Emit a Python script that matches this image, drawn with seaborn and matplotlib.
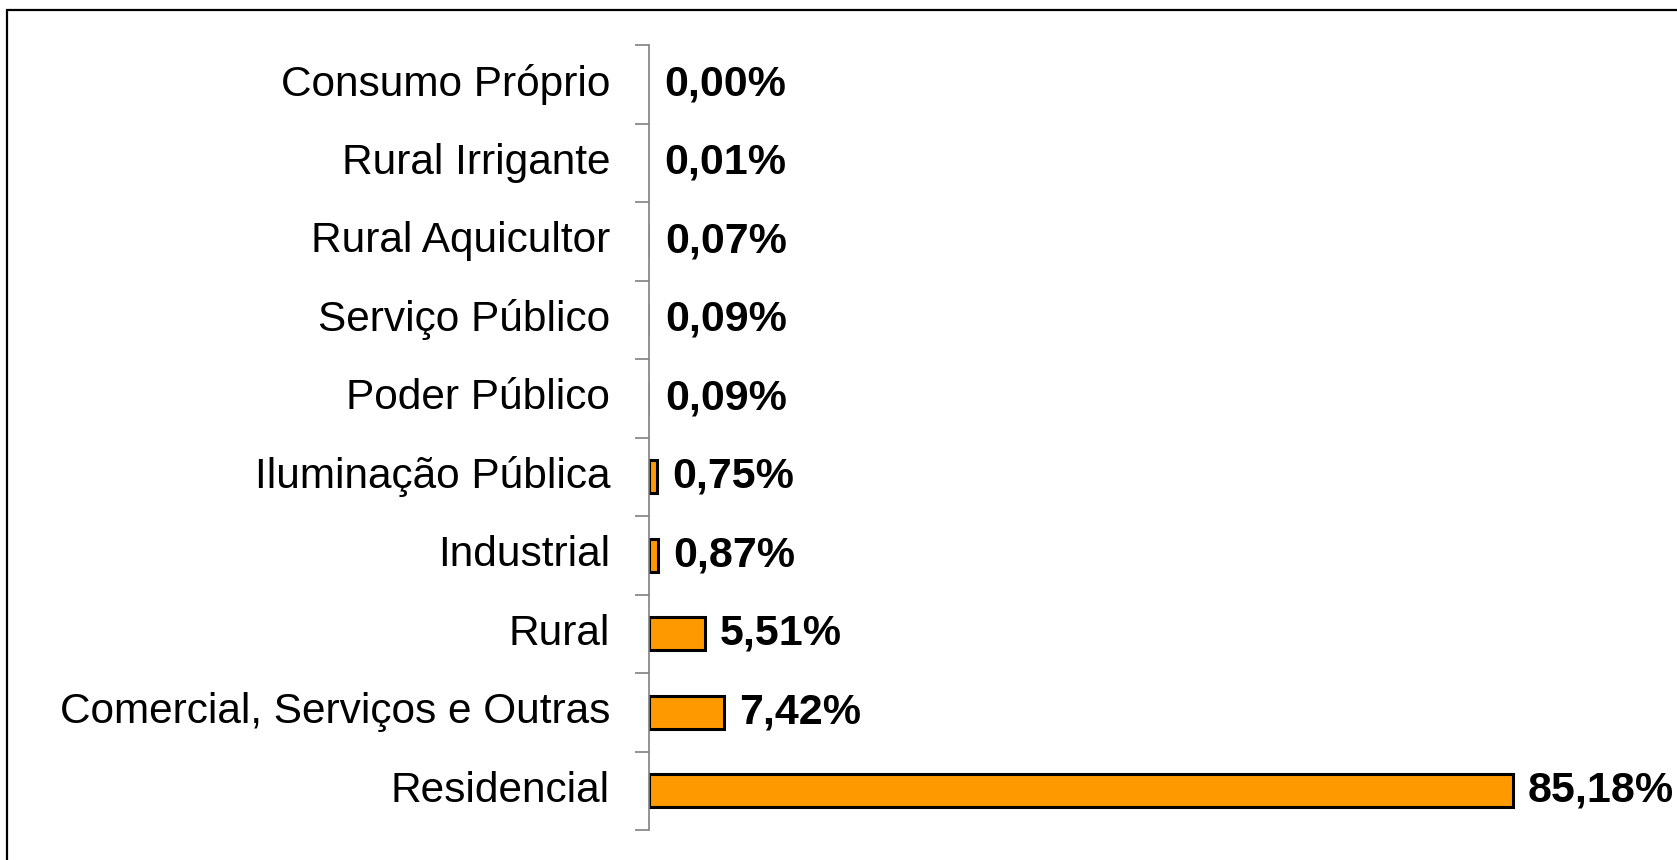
import matplotlib
matplotlib.use("Agg")
import matplotlib.pyplot as plt
import matplotlib.patches as mpatches
import pandas as pd
import seaborn as sns

# chart data, top to bottom as in the reference
categories = [
    "Consumo Próprio",
    "Rural Irrigante",
    "Rural Aquicultor",
    "Serviço Público",
    "Poder Público",
    "Iluminação Pública",
    "Industrial",
    "Rural",
    "Comercial, Serviços e Outras",
    "Residencial",
]
shares = [0.00, 0.01, 0.07, 0.09, 0.09, 0.75, 0.87, 5.51, 7.42, 85.18]

df = pd.DataFrame({"classe": categories, "participacao": shares})

sns.set_style("white")
plt.rcParams["font.family"] = ["Liberation Sans", "DejaVu Sans"]
plt.rcParams["text.color"] = "black"
plt.rcParams["ytick.labelcolor"] = "black"

fig = plt.figure(figsize=(16.77, 8.6), dpi=100)
ax = fig.add_axes([649 / 1677, 30 / 860, 1014 / 1677, 785 / 860])

sns.barplot(data=df, y="classe", x="participacao", orient="h",
            color="#FF9900", saturation=1, width=0.42,
            edgecolor="black", linewidth=2.2, ax=ax)

# very small shares are not visible in the original
for p in ax.patches:
    if p.get_width() < 0.5:
        p.set_linewidth(0)

ax.set_xlim(0, 100)
ax.set_ylim(len(categories) - 0.5, -0.5)
ax.set_xlabel("")
ax.set_ylabel("")
ax.set_xticks([])

# value labels next to each bar
for i, v in enumerate(shares):
    txt = f"{v:.2f}%".replace(".", ",")
    ax.annotate(txt, (v, i), xytext=(11, 0), textcoords="offset points",
                ha="left", va="center", fontsize=31, fontweight="bold",
                color="black")

# tick marks between categories, labels at the centres
ax.set_yticks([i - 0.5 for i in range(len(categories) + 1)], minor=True)
ax.tick_params(axis="y", which="minor", length=10, width=1.2,
               color="#808080", left=True)
ax.tick_params(axis="y", which="major", length=0, pad=28, labelsize=30.5,
               labelcolor="black")
for lbl in ax.get_yticklabels():
    lbl.set_verticalalignment("center")

for side in ["top", "right", "bottom"]:
    ax.spines[side].set_visible(False)
ax.spines["left"].set_color("#808080")
ax.spines["left"].set_linewidth(1.2)

# outer frame of the chart area
frame = mpatches.Rectangle((7 / 1677, -0.05), 1.1, 1 - 10 / 860 + 0.05,
                           transform=fig.transFigure, fill=False,
                           edgecolor="black", linewidth=1.6, clip_on=False)
fig.patches.append(frame)

fig.savefig("out.png", dpi=100)
